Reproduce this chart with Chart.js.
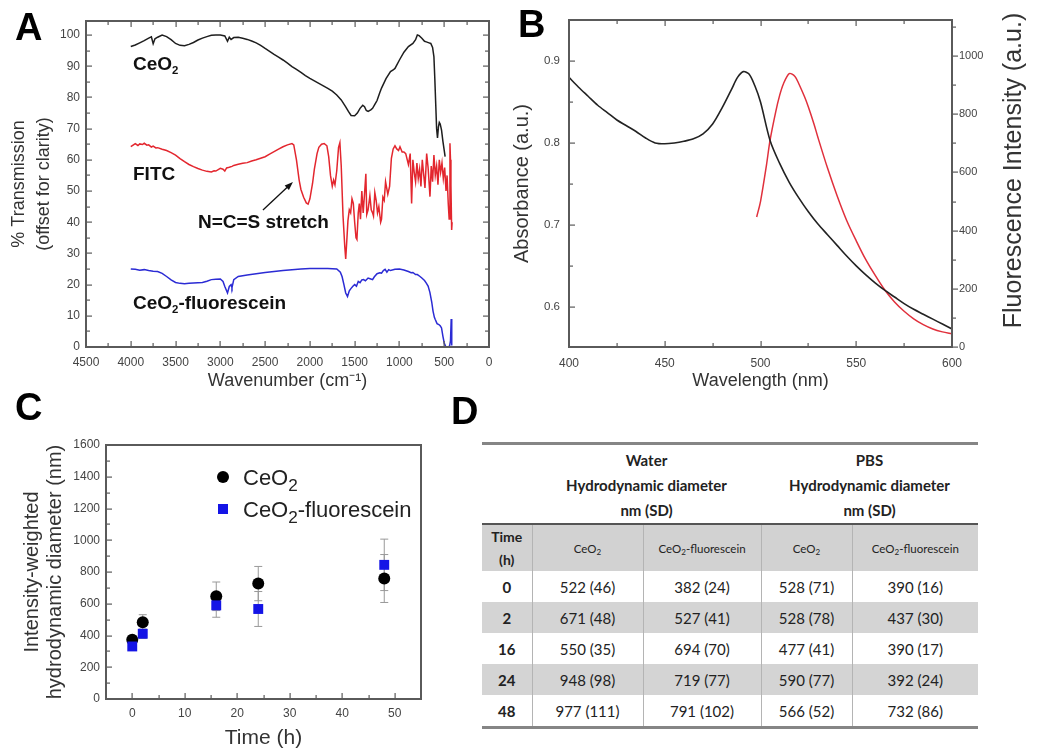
<!DOCTYPE html>
<html>
<head>
<meta charset="utf-8">
<script src="https://cdn.jsdelivr.net/npm/chart.js@4.4.1/dist/chart.umd.min.js"></script>
<style>
  body { margin: 0; background: #fff; }
  #page { position: relative; width: 1050px; height: 753px; overflow: hidden; font-family: "Liberation Sans", Arial, sans-serif; }
  canvas { position: absolute; }
  .letter { position: absolute; font: bold 38px/38px "Liberation Sans", Arial, sans-serif; color: #000; }
  #tblD { position: absolute; left: 482px; top: 442px; width: 496px; border-collapse: collapse; table-layout: fixed;
          font-family: Lato, "Open Sans", sans-serif; color: #222; }
  #tblD td { padding: 0; text-align: center; vertical-align: middle; }
  #tblD tr.top td { border-top: 3px solid #858585; height: 75px; font-weight: bold; font-size: 15px; line-height: 25px; vertical-align: top; }
  #tblD tr.sub td { background: #d2d2d2; border-top: 2px solid #555; height: 46px; font-size: 11.5px; }
  #tblD tr.sub td.time { font-size: 14px; font-weight: bold; line-height: 23px; }
  #tblD tr.row td { height: 31px; font-size: 15px; }
  #tblD tr.row td.time { font-weight: bold; }
  #tblD tr.shade td { background: #d4d4d4; }
  #tblD tr.last td { border-bottom: 3px solid #858585; }
  #tblD tr.sub td + td, #tblD tr.row td + td { border-left: 1px solid #b4b4b4; }
  #tblD sub { font-size: 0.7em; vertical-align: -0.25em; line-height: 0; }
</style>
</head>
<body>
<div id="page">
  <canvas id="chartA" width="500" height="395" style="left:0;top:0"></canvas>
  <canvas id="chartB" width="550" height="395" style="left:500px;top:0"></canvas>
  <canvas id="chartC" width="455" height="358" style="left:0;top:395px"></canvas>
  <table id="tblD"></table>
  <div class="letter" style="left:15px;top:8px">A</div>
  <div class="letter" style="left:518px;top:5px">B</div>
  <div class="letter" style="left:15px;top:388px">C</div>
  <div class="letter" style="left:451px;top:392px">D</div>
</div>
<script>
// ---------- A: FTIR spectra ----------
const wnCeO2 = [4000,3950,3900,3850,3800,3770,3750,3730,3700,3650,3600,3550,3500,3450,3400,3350,3300,3250,3200,3150,3100,3050,3000,2950,2920,2900,2880,2850,2800,2750,2700,2650,2600,2550,2500,2450,2400,2350,2300,2250,2200,2150,2100,2050,2000,1950,1900,1850,1800,1750,1700,1650,1600,1570,1540,1500,1470,1440,1410,1390,1370,1350,1320,1300,1270,1250,1220,1200,1150,1100,1070,1050,1000,950,900,850,820,800,780,750,720,700,670,650,630,615,605,595,585,575,565,555,545,530,515,500,490];
const tCeO2 = [96.3,96.8,97.5,98.2,99.0,99.4,97.2,98.8,99.3,100.0,99.5,98.5,97.3,96.7,96.6,97.0,97.6,98.4,99.0,99.5,99.9,100.0,100.0,99.7,98.0,99.3,98.6,99.2,99.3,99.0,98.6,98.1,97.5,96.7,95.7,94.8,93.8,92.9,92.0,91.0,89.9,89.0,88.0,87.0,86.1,85.3,84.5,83.7,82.9,82.0,80.8,79.2,77.0,75.5,74.2,74.1,75.0,76.5,77.5,77.0,75.8,75.5,76.0,76.5,78.0,79.0,81.5,83.0,86.0,88.3,88.8,89.3,92.0,94.5,96.3,97.3,98.5,100.0,99.8,99.0,98.0,97.8,97.5,97.3,96.0,93.0,86.0,78.0,70.0,67.0,70.5,72.0,71.5,69.5,66.0,63.0,61.0];

const wnFITC = [4000,3970,3950,3920,3900,3870,3850,3820,3800,3770,3750,3720,3700,3650,3600,3550,3500,3450,3400,3350,3300,3250,3200,3150,3100,3070,3050,3000,2970,2950,2930,2900,2870,2850,2800,2750,2700,2650,2600,2550,2500,2450,2400,2350,2300,2250,2200,2180,2150,2120,2100,2070,2040,2020,2000,1970,1950,1920,1900,1870,1840,1810,1790,1770,1750,1735,1720,1700,1680,1665,1650,1630,1610,1600,1590,1575,1560,1545,1530,1515,1500,1485,1475,1460,1448,1435,1420,1405,1390,1375,1365,1350,1330,1315,1300,1290,1275,1260,1245,1230,1210,1200,1185,1170,1155,1130,1110,1090,1070,1050,1030,1010,994,970,950,930,900,880,864,850,835,820,805,790,775,760,745,730,715,696,680,659,645,630,615,600,585,570,555,540,525,510,495,480,468,455,445,436,430,425,417,412];
const tFITC = [64.2,64.8,65.2,64.6,65.1,64.9,65.3,64.7,64.8,64.1,64.4,63.8,63.9,63.4,63.0,62.3,61.5,60.4,59.4,58.5,57.8,57.2,56.7,56.3,56.1,56.5,56.4,57.3,57.0,56.4,57.4,57.6,57.9,58.2,58.6,58.9,59.1,59.6,60.0,60.5,61.0,61.8,62.6,63.4,64.2,64.8,65.2,64.8,60.0,53.5,50.5,48.0,46.2,45.8,47.5,52.5,57.0,62.0,64.0,65.0,65.2,64.5,61.0,55.0,51.5,53.5,52.0,56.5,64.0,65.5,58.0,42.0,32.0,28.2,33.0,40.5,44.0,43.0,47.5,46.0,40.0,35.0,34.5,43.0,46.0,41.0,50.0,43.0,49.0,55.5,42.5,44.0,48.5,44.0,43.0,42.0,49.5,47.0,43.0,45.0,40.0,41.0,48.0,47.0,53.0,49.0,51.5,60.5,63.5,64.5,63.5,63.0,64.2,62.5,62.5,62.0,58.5,62.0,46.0,60.0,56.0,53.0,59.0,54.0,57.0,51.5,60.0,55.5,51.0,62.0,57.5,48.2,58.0,53.0,61.5,55.0,58.0,52.0,60.0,56.0,59.0,54.0,57.5,50.0,55.0,46.0,41.0,65.3,60.0,52.0,37.5,40.0];

const wnConj = [4000,3950,3900,3850,3800,3750,3700,3650,3600,3550,3500,3450,3400,3350,3300,3250,3200,3150,3100,3050,3000,2970,2950,2920,2900,2880,2870,2850,2800,2700,2600,2500,2400,2300,2200,2100,2000,1900,1800,1700,1660,1640,1620,1600,1580,1560,1540,1520,1500,1480,1460,1440,1420,1400,1380,1350,1320,1300,1280,1250,1220,1200,1180,1160,1140,1120,1100,1050,1000,950,900,870,850,820,800,770,750,720,700,680,660,640,625,610,600,580,560,545,530,515,500,485,470,455,440,430,422,418,414];
const tConj = [25.0,24.9,24.6,24.8,24.5,24.3,24.2,23.6,22.6,21.5,20.7,20.4,20.3,20.4,20.5,20.6,20.7,21.1,21.6,21.7,21.8,21.0,19.4,17.3,19.4,20.0,19.0,21.6,22.6,23.1,23.5,23.9,24.2,24.5,24.8,25.0,25.2,25.2,25.2,25.0,24.0,22.5,20.0,17.3,16.2,18.0,18.8,19.5,20.0,19.5,21.0,20.6,21.5,21.6,21.2,22.1,21.8,21.6,22.5,23.5,23.8,23.7,24.5,24.9,24.0,24.8,24.5,24.9,25.0,24.7,24.2,23.8,23.9,23.2,23.2,22.6,22.1,21.3,20.5,19.5,17.5,14.5,11.5,9.5,8.8,7.5,7.2,6.8,6.1,3.5,1.3,0.2,0.0,0.1,0.3,2.0,9.0,1.0,0.5];

const wnTicksA = [0,500,1000,1500,2000,2500,3000,3500,4000,4500];
const tTicksA = [0,10,20,30,40,50,60,70,80,90,100];

const labelTextA = ['CeO_2', 'FITC', 'CeO_2-fluorescein', 'N=C=S stretch'];
const labelWnA = [3975, 3975, 3975, 3250];
const labelTA = [91, 55.8, 14.4, 40.4];
const arrowFromA = [2524, 43.9];   // wavenumber, %T
const arrowToA = [2189, 52.9];

// ---------- B: absorbance / fluorescence ----------
const wlAbs = [400,405,410,415,420,425,430,435,440,445,450,455,460,465,470,475,480,485,488,491,494,497,500,505,510,515,520,525,530,535,540,545,550,555,560,565,570,575,580,585,590,595,600];
const absVal = [0.880,0.868,0.857,0.846,0.837,0.828,0.821,0.814,0.806,0.800,0.799,0.800,0.802,0.805,0.811,0.823,0.843,0.866,0.880,0.887,0.884,0.870,0.850,0.803,0.775,0.752,0.733,0.716,0.701,0.688,0.675,0.662,0.650,0.639,0.629,0.620,0.612,0.604,0.597,0.591,0.585,0.579,0.573];
const wlFl = [498,500,503,505,508,510,512,515,518,520,523,525,528,530,535,540,545,550,555,560,565,570,575,580,585,590,595,600];
const flVal = [447,500,620,711,810,865,905,940,930,905,860,825,765,720,615,520,435,365,300,245,195,155,123,97,77,62,52,45];
const wlTicksB = [400,450,500,550,600];
const absTicksB = [0.6,0.7,0.8,0.9];
const flTicksB = [0,200,400,600,800,1000];

// ---------- C: DLS over time ----------
const timeC = [0, 2, 16, 24, 48];
const diamCeO2 = [373, 483, 647, 727, 759];
const errCeO2 = [25, 48, 90, 108, 151];
const diamConj = [331, 411, 590, 567, 845];
const errConj = [20, 30, 75, 110, 162];
const timeTicksC = [0, 10, 20, 30, 40, 50];
const diamTicksC = [0, 200, 400, 600, 800, 1000, 1200, 1400, 1600];
const legendC = ['CeO_2', 'CeO_2-fluorescein'];

// ---------- D: table ----------
const timeD = [0, 2, 16, 24, 48];
const waterCeO2 = [522, 671, 550, 948, 977];
const waterCeO2SD = [46, 48, 35, 98, 111];
const waterConj = [382, 527, 694, 719, 791];
const waterConjSD = [24, 41, 70, 77, 102];
const pbsCeO2 = [528, 528, 477, 590, 566];
const pbsCeO2SD = [71, 78, 41, 77, 52];
const pbsConj = [390, 437, 390, 392, 732];
const pbsConjSD = [16, 30, 17, 24, 86];

const FONT = '"Liberation Sans", Arial, sans-serif';
const pts = (xs, ys) => xs.map((x, i) => ({ x: x, y: ys[i] }));
const plain = v => String(v);   // no thousands separator

// text with "_2" style subscripts, left aligned, vertically centred on y
function drawRich(ctx, text, x, y, size, weight, color, subScale, subDrop) {
  ctx.save();
  ctx.fillStyle = color;
  ctx.textBaseline = 'alphabetic';
  ctx.textAlign = 'left';
  const base = y + size * 0.36;
  const parts = text.split(/_(.)/);
  let cx = x;
  parts.forEach((p, i) => {
    if (!p) return;
    const sub = i % 2 === 1;
    const fs = sub ? size * subScale : size;
    ctx.font = weight + ' ' + fs + 'px ' + FONT;
    ctx.fillText(p, cx, sub ? base + size * subDrop : base);
    cx += ctx.measureText(p).width;
  });
  ctx.restore();
}

// frame round the plot area plus inward minor/major ticks (Origin style),
// drawn as thin filled rectangles
function drawFrame(chart, axes) {
  const ctx = chart.ctx, a = chart.chartArea;
  const L = Math.round(a.left), R = Math.round(a.right), T = Math.round(a.top), B = Math.round(a.bottom);
  ctx.save();
  ctx.globalAlpha = 1;
  ctx.globalCompositeOperation = 'source-over';
  ctx.fillStyle = '#5a5a5a';
  ctx.fillRect(L - 1, T - 1, R - L + 2, 2);
  ctx.fillRect(L - 1, B - 1, R - L + 2, 2);
  ctx.fillRect(L - 1, T - 1, 2, B - T + 2);
  ctx.fillRect(R - 1, T - 1, 2, B - T + 2);
  axes.forEach(ax => {
    const s = chart.scales[ax.id];
    const lo = Math.min(s.min, s.max), hi = Math.max(s.min, s.max);
    const n0 = Math.ceil(lo / ax.minor - 1e-6), n1 = Math.floor(hi / ax.minor + 1e-6);
    for (let n = n0; n <= n1; n++) {
      const v = n * ax.minor;
      const major = Math.abs(v / ax.major - Math.round(v / ax.major)) < 1e-6;
      const len = major ? 6 : 4;
      const p = Math.round(s.getPixelForValue(v));
      ax.sides.forEach(side => {
        if (side === 'bottom') ctx.fillRect(p - 0.5, B - len, 1.2, len);
        if (side === 'top') ctx.fillRect(p - 0.5, T, 1.2, len);
        if (side === 'left') ctx.fillRect(L, p - 0.5, len, 1.2);
        if (side === 'right') ctx.fillRect(R - len, p - 0.5, len, 1.2);
        if (side === 'rightOut') ctx.fillRect(R, p - 0.5, len, 1.2);
      });
    }
  });
  ctx.restore();
}

const framesByCanvas = {
  chartA: [
    { id: 'x', major: 500, minor: 250, sides: ['bottom', 'top'] },
    { id: 'y', major: 10, minor: 5, sides: ['left', 'right'] }
  ],
  chartB: [
    { id: 'x', major: 50, minor: 25, sides: ['bottom', 'top'] },
    { id: 'y', major: 0.1, minor: 0.05, sides: ['left'] },
    { id: 'y2', major: 200, minor: 100, sides: ['rightOut'] }
  ],
  chartC: [
    { id: 'x', major: 10, minor: 5, sides: ['bottom'] },
    { id: 'y', major: 200, minor: 100, sides: ['left'] }
  ]
};

// one overlay plugin per chart: error bars, frame, ticks, notes, titles, legend
const overlay = {
  id: 'overlay',
  beforeDatasetsDraw(chart) {
    const { ctx } = chart;
    chart.data.datasets.forEach((ds, i) => {
      if (!ds.errors) return;
      const meta = chart.getDatasetMeta(i);
      const sy = chart.scales[meta.yAxisID];
      ctx.save();
      ctx.strokeStyle = '#999';
      ctx.lineWidth = 1;
      meta.data.forEach((el, j) => {
        const v = ds.data[j].y, e = ds.errors[j];
        const yt = sy.getPixelForValue(v + e), yb = sy.getPixelForValue(v - e);
        ctx.beginPath();
        ctx.moveTo(el.x, yt); ctx.lineTo(el.x, yb);
        ctx.moveTo(el.x - 4, yt); ctx.lineTo(el.x + 4, yt);
        ctx.moveTo(el.x - 4, yb); ctx.lineTo(el.x + 4, yb);
        ctx.stroke();
      });
      ctx.restore();
    });
  },
  afterDraw(chart) {
    const id = chart.canvas.id;
    drawFrame(chart, framesByCanvas[id]);
    if (id === 'chartA') drawNotesA(chart);
    if (id === 'chartB') drawSideTitle(chart, 'y2', 'Fluorescence Intensity (a.u.)', 25, 36, 13);
    if (id === 'chartC') drawLegendC(chart);
  }
};

function drawNotesA(chart) {
  const { ctx } = chart;
  const sx = chart.scales.x, sy = chart.scales.y;
  labelTextA.forEach((t, i) => {
    drawRich(ctx, t, sx.getPixelForValue(labelWnA[i]), sy.getPixelForValue(labelTA[i]), 19, 'bold', '#111', 0.6, 0.2);
  });
  const x0 = sx.getPixelForValue(arrowFromA[0]), y0 = sy.getPixelForValue(arrowFromA[1]);
  const x1 = sx.getPixelForValue(arrowToA[0]), y1 = sy.getPixelForValue(arrowToA[1]);
  const ang = Math.atan2(y1 - y0, x1 - x0);
  ctx.save();
  ctx.strokeStyle = '#111';
  ctx.fillStyle = '#111';
  ctx.lineWidth = 1.3;
  ctx.beginPath(); ctx.moveTo(x0, y0); ctx.lineTo(x1 - 6 * Math.cos(ang), y1 - 6 * Math.sin(ang)); ctx.stroke();
  ctx.beginPath();
  ctx.moveTo(x1, y1);
  ctx.lineTo(x1 - 9 * Math.cos(ang - 0.35), y1 - 9 * Math.sin(ang - 0.35));
  ctx.lineTo(x1 - 9 * Math.cos(ang + 0.35), y1 - 9 * Math.sin(ang + 0.35));
  ctx.closePath(); ctx.fill();
  ctx.restore();
}

// right-hand title of B reads bottom-to-top like the left one
function drawSideTitle(chart, axis, text, size, offset, shift) {
  const { ctx, chartArea: a } = chart;
  const s = chart.scales[axis];
  ctx.save();
  ctx.translate(s.right - offset, (a.top + a.bottom) / 2 - shift);
  ctx.rotate(-Math.PI / 2);
  ctx.font = size + 'px ' + FONT;
  ctx.fillStyle = '#333';
  ctx.textAlign = 'center';
  ctx.textBaseline = 'middle';
  ctx.fillText(text, 0, 0);
  ctx.restore();
}

function drawLegendC(chart) {
  const { ctx, chartArea: a } = chart;
  const rows = [a.top + 40, a.top + 72];
  chart.data.datasets.forEach(ds => {
    const k = ds.legendRow;
    const mx = a.left + 117, my = rows[k] - 8;
    ctx.save();
    ctx.fillStyle = ds.backgroundColor;
    if (ds.pointStyle === 'circle') {
      ctx.beginPath(); ctx.arc(mx, my, 6, 0, Math.PI * 2); ctx.fill();
    } else {
      ctx.fillRect(mx - 5, my - 5, 10, 10);
    }
    ctx.restore();
    drawRich(ctx, legendC[k], a.left + 137, rows[k] - 22 * 0.36, 22, 'normal', '#222', 0.78, 0.25);
  });
}

function tickFont(size) { return { family: FONT, size: size }; }
function fixTicks(values) { return s => { s.ticks = values.map(v => ({ value: v })); }; }

// ---------- chart A ----------
new Chart(document.getElementById('chartA'), {
  type: 'scatter',
  data: {
    datasets: [
      { data: pts(wnCeO2, tCeO2), showLine: true, borderColor: '#1e1e1e', borderWidth: 1.5, pointRadius: 0 },
      { data: pts(wnFITC, tFITC), showLine: true, borderColor: '#e3262e', borderWidth: 1.5, pointRadius: 0 },
      { data: pts(wnConj, tConj), showLine: true, borderColor: '#2b2bd4', borderWidth: 1.5, pointRadius: 0 }
    ]
  },
  options: {
    responsive: false, animation: false, events: [],
    layout: { padding: { top: 21, right: 11, left: 0, bottom: 0 } },
    plugins: { legend: { display: false }, tooltip: { enabled: false } },
    scales: {
      x: {
        type: 'linear', reverse: true, min: 0, max: 4500,
        grid: { display: false, drawTicks: false }, border: { display: false },
        afterBuildTicks: fixTicks(wnTicksA),
        ticks: { padding: 8, color: '#444', font: tickFont(12), maxRotation: 0, autoSkip: false, callback: plain },
        title: { display: true, text: 'Wavenumber (cm\u207B\u00B9)', color: '#333', font: { family: FONT, size: 18, lineHeight: 1.2 }, padding: { top: 0, bottom: 3 } },
        afterFit: s => { s.height = 48; }
      },
      y: {
        min: 0, max: 104.5,
        grid: { display: false, drawTicks: false }, border: { display: false },
        afterBuildTicks: fixTicks(tTicksA),
        ticks: { padding: 6, color: '#444', font: tickFont(12), callback: plain },
        title: { display: true, text: ['% Transmission', '(offset for clarity)'], color: '#333', font: { family: FONT, size: 18, lineHeight: 1.39 }, padding: { top: 7, bottom: 0 } },
        afterFit: s => { s.width = 86; }
      }
    }
  },
  plugins: [overlay]
});

// ---------- chart B ----------
new Chart(document.getElementById('chartB'), {
  type: 'scatter',
  data: {
    datasets: [
      { data: pts(wlAbs, absVal), yAxisID: 'y', showLine: true, borderColor: '#222', borderWidth: 1.6, pointRadius: 0, tension: 0.3 },
      { data: pts(wlFl, flVal), yAxisID: 'y2', showLine: true, borderColor: '#e0303c', borderWidth: 1.5, pointRadius: 0, tension: 0.3 }
    ]
  },
  options: {
    responsive: false, animation: false, events: [],
    layout: { padding: { top: 20, right: 0, left: 0, bottom: 0 } },
    plugins: { legend: { display: false }, tooltip: { enabled: false } },
    scales: {
      x: {
        type: 'linear', min: 400, max: 600,
        grid: { display: false, drawTicks: false }, border: { display: false },
        afterBuildTicks: fixTicks(wlTicksB),
        ticks: { padding: 9, color: '#444', font: tickFont(12), maxRotation: 0, autoSkip: false, callback: plain },
        title: { display: true, text: 'Wavelength (nm)', color: '#333', font: { family: FONT, size: 18, lineHeight: 1.2 }, padding: { top: 0, bottom: 3 } },
        afterFit: s => { s.height = 48; }
      },
      y: {
        position: 'left', min: 0.551, max: 0.95,
        grid: { display: false, drawTicks: false }, border: { display: false },
        afterBuildTicks: fixTicks(absTicksB),
        ticks: { padding: 9, color: '#444', font: tickFont(11.5), callback: v => v.toFixed(1) },
        title: { display: true, text: 'Absorbance (a.u.)', color: '#333', font: { family: FONT, size: 20, lineHeight: 1.2 }, padding: { top: 10, bottom: 0 } },
        afterFit: s => { s.width = 69; }
      },
      y2: {
        position: 'right', min: 0, max: 1124,
        grid: { display: false, drawTicks: false }, border: { display: false },
        afterBuildTicks: fixTicks(flTicksB),
        ticks: { padding: 7, color: '#444', font: tickFont(11), callback: plain },
        afterFit: s => { s.width = 98; }
      }
    }
  },
  plugins: [overlay]
});

// ---------- chart C ----------
new Chart(document.getElementById('chartC'), {
  type: 'scatter',
  data: {
    datasets: [
      { data: pts(timeC, diamConj), errors: errConj, legendRow: 1, order: 0, pointStyle: 'rect', pointRadius: 7, backgroundColor: '#1414e6', borderWidth: 0 },
      { data: pts(timeC, diamCeO2), errors: errCeO2, legendRow: 0, order: 1, pointStyle: 'circle', pointRadius: 6, backgroundColor: '#000', borderWidth: 0 }
    ]
  },
  options: {
    responsive: false, animation: false, events: [],
    layout: { padding: { top: 50, right: 34, left: 0, bottom: 0 } },
    plugins: { legend: { display: false }, tooltip: { enabled: false } },
    scales: {
      x: {
        type: 'linear', min: -5, max: 55,
        grid: { display: false, drawTicks: false }, border: { display: false },
        afterBuildTicks: fixTicks(timeTicksC),
        ticks: { padding: 7, color: '#444', font: tickFont(12), maxRotation: 0, autoSkip: false, callback: plain },
        title: { display: true, text: 'Time (h)', color: '#333', font: { family: FONT, size: 21, lineHeight: 1.2 }, padding: { top: 0, bottom: 2 } },
        afterFit: s => { s.height = 54; }
      },
      y: {
        min: 0, max: 1600,
        grid: { display: false, drawTicks: false }, border: { display: false },
        afterBuildTicks: fixTicks(diamTicksC),
        ticks: { padding: 6, color: '#444', font: tickFont(12), callback: plain },
        title: { display: true, text: ['Intensity-weighted', 'hydrodynamic diameter (nm)'], color: '#333', font: { family: FONT, size: 20, lineHeight: 1.15 }, padding: { top: 21, bottom: 0 } },
        afterFit: s => { s.width = 106; }
      }
    }
  },
  plugins: [overlay]
});

// ---------- table D ----------
(function buildTable() {
  const cell = (m, sd) => m + ' (' + sd + ')';
  let html = '<colgroup><col style="width:50px"><col style="width:111px"><col style="width:118px"><col style="width:91px"><col style="width:126px"></colgroup>';
  html += '<tr class="top"><td></td>' +
    '<td colspan="2" style="padding-top:3px">Water<br>Hydrodynamic diameter<br>nm (SD)</td>' +
    '<td colspan="2" style="padding-top:3px">PBS<br>Hydrodynamic diameter<br>nm (SD)</td></tr>';
  html += '<tr class="sub"><td class="time">Time<br>(h)</td><td>CeO<sub>2</sub></td><td>CeO<sub>2</sub>-fluorescein</td><td>CeO<sub>2</sub></td><td>CeO<sub>2</sub>-fluorescein</td></tr>';
  timeD.forEach((t, i) => {
    const cls = 'row' + (i % 2 === 1 ? ' shade' : '') + (i === timeD.length - 1 ? ' last' : '');
    html += '<tr class="' + cls + '"><td class="time">' + t + '</td>' +
      '<td>' + cell(waterCeO2[i], waterCeO2SD[i]) + '</td>' +
      '<td>' + cell(waterConj[i], waterConjSD[i]) + '</td>' +
      '<td>' + cell(pbsCeO2[i], pbsCeO2SD[i]) + '</td>' +
      '<td>' + cell(pbsConj[i], pbsConjSD[i]) + '</td></tr>';
  });
  document.getElementById('tblD').innerHTML = html;
})();
</script>
</body>
</html>
